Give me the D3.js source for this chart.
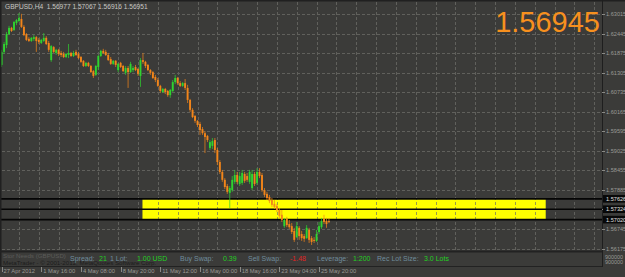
<!DOCTYPE html>
<html><head><meta charset="utf-8">
<script src="https://cdn.jsdelivr.net/npm/d3@7"></script>
<style>html,body{margin:0;padding:0;background:#3b3b39;}svg{display:block;}</style>
</head><body>
<script>
const symbolTitle = "GBPUSD,H4  1.56977 1.57067 1.56916 1.56951";
const lastPrice = "1.56945";
const open  = [1.6153,1.6191,1.6211,1.6243,1.6261,1.6255,1.6275,1.6281,1.6287,1.6264,1.6243,1.6229,1.6223,1.6229,1.6234,1.6226,1.6217,1.6223,1.6232,1.6217,
1.6167,1.6205,1.6188,1.6197,1.6188,1.6185,1.6176,1.6182,1.6188,1.6179,1.6191,1.6185,1.6176,1.6165,1.6150,1.6159,1.6150,1.6135,1.6124,1.6147,
1.6179,1.6194,1.6191,1.6182,1.6170,1.6156,1.6165,1.6138,1.6159,1.6150,1.6130,1.6144,1.6132,1.6138,1.6147,1.6141,1.6121,1.6167,1.6162,1.6153,
1.6138,1.6132,1.6118,1.6109,1.6092,1.6074,1.6083,1.6077,1.6065,1.6077,1.6103,1.6115,1.6100,1.6092,1.6100,1.6086,1.6051,1.6022,1.6004,1.5990,
1.5981,1.5966,1.5954,1.5946,1.5911,1.5917,1.5934,1.5905,1.5870,1.5841,1.5818,1.5800,1.5780,1.5788,1.5812,1.5832,1.5806,1.5809,1.5835,1.5829,
1.5812,1.5794,1.5835,1.5809,1.5841,1.5832,1.5788,1.5777,1.5768,1.5759,1.5748,1.5742,1.5730,1.5716,1.5683,1.5704,1.5689,1.5683,1.5669,1.5651,
1.5678,1.5660,1.5654,1.5648,1.5672,1.5648,1.5643,1.5640,1.5666,1.5680,1.5704,1.5698,1.56977];
const high  = [1.6197,1.6220,1.6249,1.6267,1.6264,1.6281,1.6287,1.6304,1.6302,1.6269,1.6246,1.6234,1.6234,1.6240,1.6237,1.6232,1.6229,1.6246,1.6237,1.6223,
1.6211,1.6208,1.6200,1.6200,1.6194,1.6191,1.6188,1.6214,1.6191,1.6194,1.6197,1.6191,1.6179,1.6167,1.6162,1.6162,1.6153,1.6138,1.6153,1.6182,
1.6197,1.6200,1.6197,1.6188,1.6176,1.6167,1.6167,1.6159,1.6162,1.6153,1.6150,1.6150,1.6162,1.6150,1.6153,1.6144,1.6173,1.6188,1.6165,1.6156,
1.6141,1.6135,1.6124,1.6115,1.6095,1.6086,1.6086,1.6080,1.6083,1.6109,1.6124,1.6118,1.6106,1.6103,1.6112,1.6095,1.6054,1.6027,1.6007,1.5992,
1.5987,1.5972,1.5960,1.5949,1.5934,1.5940,1.5940,1.5911,1.5876,1.5847,1.5823,1.5806,1.5800,1.5829,1.5847,1.5841,1.5841,1.5847,1.5841,1.5838,
1.5847,1.5847,1.5841,1.5852,1.5852,1.5838,1.5794,1.5783,1.5774,1.5765,1.5759,1.5748,1.5736,1.5730,1.5707,1.5710,1.5701,1.5692,1.5678,1.5695,
1.5683,1.5669,1.5660,1.5686,1.5678,1.5654,1.5651,1.5672,1.5695,1.5707,1.5716,1.5707,1.57067];
const low   = [1.6147,1.6185,1.6202,1.6240,1.6249,1.6252,1.6269,1.6278,1.6261,1.6237,1.6223,1.6220,1.6220,1.6223,1.6191,1.6214,1.6214,1.6220,1.6211,1.6191,
1.6162,1.6188,1.6182,1.6179,1.6176,1.6173,1.6173,1.6173,1.6176,1.6176,1.6179,1.6170,1.6159,1.6147,1.6147,1.6147,1.6130,1.6115,1.6121,1.6138,
1.6176,1.6185,1.6179,1.6165,1.6153,1.6153,1.6147,1.6132,1.6144,1.6132,1.6124,1.6086,1.6130,1.6132,1.6135,1.6121,1.6089,1.6156,1.6144,1.6135,
1.6124,1.6112,1.6103,1.6089,1.6071,1.6071,1.6068,1.6060,1.6057,1.6074,1.6097,1.6095,1.6089,1.6089,1.6080,1.6042,1.6016,1.5998,1.5984,1.5972,
1.5949,1.5949,1.5896,1.5928,1.5905,1.5908,1.5896,1.5861,1.5835,1.5812,1.5791,1.5777,1.5736,1.5783,1.5806,1.5806,1.5800,1.5803,1.5809,1.5812,
1.5806,1.5788,1.5800,1.5803,1.5823,1.5783,1.5768,1.5759,1.5750,1.5739,1.5733,1.5724,1.5707,1.5695,1.5678,1.5680,1.5675,1.5660,1.5637,1.5648,
1.5643,1.5640,1.5637,1.5646,1.5634,1.5628,1.5634,1.5637,1.5660,1.5675,1.5689,1.5678,1.56916];
const close = [1.6191,1.6214,1.6243,1.6261,1.6252,1.6278,1.6284,1.6290,1.6264,1.6240,1.6226,1.6223,1.6232,1.6234,1.6223,1.6220,1.6226,1.6232,1.6214,1.6197,
1.6208,1.6191,1.6197,1.6185,1.6182,1.6176,1.6185,1.6188,1.6179,1.6188,1.6182,1.6173,1.6162,1.6150,1.6159,1.6150,1.6132,1.6121,1.6150,1.6179,
1.6194,1.6188,1.6182,1.6167,1.6156,1.6165,1.6153,1.6156,1.6147,1.6135,1.6144,1.6132,1.6156,1.6144,1.6138,1.6127,1.6167,1.6162,1.6150,1.6138,
1.6130,1.6115,1.6109,1.6092,1.6077,1.6083,1.6074,1.6065,1.6080,1.6103,1.6115,1.6100,1.6092,1.6100,1.6086,1.6051,1.6022,1.6001,1.5990,1.5978,
1.5963,1.5954,1.5943,1.5934,1.5928,1.5931,1.5905,1.5870,1.5841,1.5818,1.5797,1.5783,1.5794,1.5818,1.5832,1.5812,1.5829,1.5838,1.5815,1.5818,
1.5841,1.5835,1.5806,1.5841,1.5829,1.5788,1.5774,1.5765,1.5756,1.5745,1.5739,1.5730,1.5713,1.5701,1.5701,1.5686,1.5680,1.5666,1.5643,1.5683,
1.5654,1.5648,1.5646,1.5678,1.5643,1.5637,1.5640,1.5660,1.5683,1.5698,1.5695,1.5689,1.56951];

const timeLabels = ["27 Apr 2012","1 May 16:00","4 May 08:00","8 May 20:00","11 May 12:00","16 May 00:00","18 May 16:00","23 May 04:00","25 May 20:00"];
const timeLabelBars = [0,16,32,48,64,80,96,112,128];
const priceTicks = [1.63015,1.62445,1.61875,1.61305,1.60735,1.60165,1.59595,1.59025,1.58455,1.57885,1.57315,1.56745,1.56175];
const hLines = [1.57626,1.57324,1.57020];
const hLineLabels = ["1.57626","1.57324","1.57020"];
const zoneBars = [56.8, 219.4];
const zonePrices = [1.57626, 1.57020];
const subLabels = ["900000","900000"];
const infoSegments = [
  ["Spread:", "lab"],["21","val"],["1 Lot:","lab"],["1.00 USD","val"],["Buy Swap:","lab"],["0.39","val"],
  ["Sell Swap:","lab"],["-1.48","neg"],["Leverage:","lab"],["1:200","val"],["Rec Lot Size:","lab"],["3.0 Lots","val"]];

const W = 625, H = 277;
const svg = d3.select("body").append("svg").attr("width", W).attr("height", H);
const bg = "#3b3b39";
svg.append("rect").attr("width", W).attr("height", H).attr("fill", bg);

const axisX = 602;
const x = d3.scaleLinear().domain([0, 240]).range([1.6, 1.6 + 2.48 * 240]);
const y = d3.scaleLinear().domain([1.63015, 1.56175]).range([14, 248.6]);

const fontS = "'Liberation Sans', Arial, sans-serif";

// zone (yellow rectangle)
svg.append("rect")
  .attr("x", x(zoneBars[0])).attr("width", x(zoneBars[1]) - x(zoneBars[0]))
  .attr("y", y(zonePrices[0])).attr("height", y(zonePrices[1]) - y(zonePrices[0]))
  .attr("fill", "#ffff00");

// grid
const gridVals = d3.range(7, 240, 8);
const grid = svg.append("g").attr("stroke", "#70706c").attr("stroke-width", 1).attr("stroke-dasharray", "3,2").attr("opacity", 0.7);
grid.selectAll("line.v").data(gridVals.filter(v => x(v) < axisX)).join("line")
  .attr("x1", d => Math.round(x(d)) + 0.5).attr("x2", d => Math.round(x(d)) + 0.5)
  .attr("y1", 2).attr("y2", 250);
grid.selectAll("line.h").data(priceTicks).join("line")
  .attr("x1", 2).attr("x2", axisX)
  .attr("y1", d => Math.round(y(d)) + 0.5).attr("y2", d => Math.round(y(d)) + 0.5);

// horizontal black lines
svg.append("g").selectAll("line").data(hLines).join("line")
  .attr("x1", 0).attr("x2", axisX)
  .attr("y1", d => y(d)).attr("y2", d => y(d))
  .attr("stroke", "#050505").attr("stroke-width", 1.6);

// candles
const bars = open.map((o, i) => ({i, o, h: high[i], l: low[i], c: close[i]}));
const up = "#2fd42f", down = "#f2851a";
const cg = svg.append("g");
cg.selectAll("line").data(bars).join("line")
  .attr("x1", d => x(d.i)).attr("x2", d => x(d.i))
  .attr("y1", d => y(d.h)).attr("y2", d => y(d.l))
  .attr("stroke", d => d.c >= d.o ? up : down).attr("stroke-width", 0.9).attr("opacity", 0.8);
cg.selectAll("rect").data(bars).join("rect")
  .attr("x", d => x(d.i) - 0.95).attr("width", 1.9)
  .attr("y", d => y(Math.max(d.o, d.c)))
  .attr("height", d => Math.max(1, Math.abs(y(d.o) - y(d.c))))
  .attr("fill", d => d.c >= d.o ? up : down);

// borders
svg.append("line").attr("x1", 0).attr("x2", W).attr("y1", 0.75).attr("y2", 0.75).attr("stroke", "#202020").attr("stroke-width", 1.5);
svg.append("line").attr("x1", 0.75).attr("x2", 0.75).attr("y1", 0).attr("y2", 266).attr("stroke", "#202020").attr("stroke-width", 1.5);
svg.append("line").attr("x1", axisX + 0.5).attr("x2", axisX + 0.5).attr("y1", 0).attr("y2", 267).attr("stroke", "#1e1e1e").attr("stroke-width", 1);
svg.append("line").attr("x1", 0).attr("x2", axisX).attr("y1", 251.5).attr("y2", 251.5).attr("stroke", "#222").attr("stroke-width", 2);
svg.append("line").attr("x1", 0).attr("x2", axisX).attr("y1", 266.5).attr("y2", 266.5).attr("stroke", "#222").attr("stroke-width", 1);

// right axis labels
const ra = svg.append("g").attr("font-family", fontS).attr("font-size", 5.6).attr("fill", "#9a9a96");
ra.selectAll("line").data(priceTicks).join("line")
  .attr("x1", axisX).attr("x2", axisX + 3).attr("y1", d => Math.round(y(d)) + 0.5).attr("y2", d => Math.round(y(d)) + 0.5)
  .attr("stroke", "#8a8a86");
ra.selectAll("text").data(priceTicks).join("text")
  .attr("x", 606).attr("y", d => y(d) + 2).text(d => d.toFixed(5));

// black label boxes for horizontal lines
const hb = svg.append("g").attr("font-family", fontS).attr("font-size", 5.6);
hb.selectAll("rect").data(hLines).join("rect")
  .attr("x", axisX + 1).attr("width", W - axisX - 1).attr("y", d => y(d) - 3.8).attr("height", 7.6).attr("fill", "#080808");
hb.selectAll("text").data(hLines).join("text")
  .attr("x", 606).attr("y", d => y(d) + 2).attr("fill", "#e0e0e0").text((d, i) => hLineLabels[i]);

// sub-window axis labels
svg.append("g").attr("font-family", fontS).attr("font-size", 5.4).attr("fill", "#9a9a96")
  .selectAll("text").data(subLabels).join("text")
  .attr("x", 605).attr("y", (d, i) => 259 + i * 5).text(d => d);

// title
svg.append("text").attr("x", 5).attr("y", 8.5).attr("font-family", fontS).attr("font-size", 6.6)
  .attr("fill", "#c8c8c4").attr("xml:space", "preserve").style("white-space", "pre").text(symbolTitle);

// big price
svg.append("text").attr("x", 600).attr("y", 32).attr("text-anchor", "end")
  .attr("font-family", fontS).attr("font-size", 29).attr("fill", "#f7901e").text(lastPrice);

// subwindow dim texts (overlapping in the original too)
svg.append("text").attr("x", 3).attr("y", 257.5).attr("font-family", fontS).attr("font-size", 6.2).attr("fill", "#5c5c5a").text("Stor Needs (GBPUSD)");
svg.append("text").attr("x", 3).attr("y", 264.5).attr("font-family", fontS).attr("font-size", 6.2).attr("fill", "#1c1c1c").text("MetaTrader - © 2001-2012, MetaQuotes Software Corp.");

// info bar
const infoX = [70, 99, 110, 137, 180, 223, 248, 290, 317, 353, 377, 424];
const infoColor = {lab: "#6f8c9c", val: "#22d022", neg: "#e02424"};
svg.append("g").attr("font-family", fontS).attr("font-size", 7)
  .selectAll("text").data(infoSegments).join("text")
  .attr("x", (d, i) => infoX[i]).attr("y", 261).attr("fill", d => infoColor[d[1]]).text(d => d[0]);

// time axis
const ta = svg.append("g").attr("font-family", fontS).attr("font-size", 5.8).attr("fill", "#9a9a96");
ta.selectAll("line").data(timeLabelBars).join("line")
  .attr("x1", d => Math.round(x(d)) + 0.5).attr("x2", d => Math.round(x(d)) + 0.5)
  .attr("y1", 267).attr("y2", 272).attr("stroke", "#8a8a86");
ta.selectAll("text").data(timeLabels).join("text")
  .attr("x", (d, i) => x(timeLabelBars[i]) + 2).attr("y", 273).text(d => d);
</script>
</body></html>
